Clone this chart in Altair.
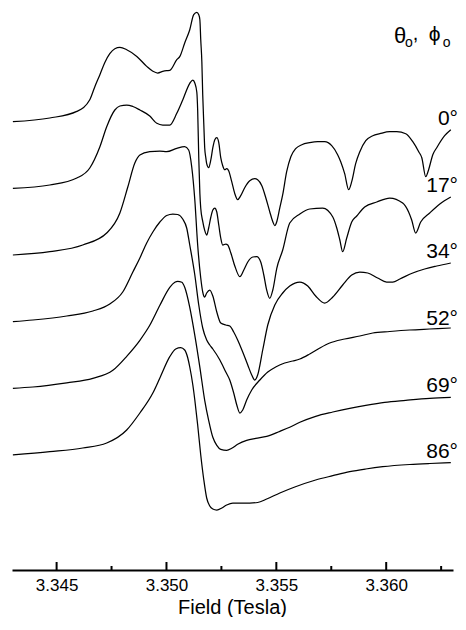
import altair as alt
import pandas as pd

angles = ["0°", "17°", "34°", "52°", "69°", "86°"]
offsets = [448.3, 381.7, 315.0, 248.3, 181.7, 115.0]

field_0 = [3.34301, 3.34469, 3.34592, 3.34651, 3.34674, 3.34697, 3.34719, 3.34742, 3.34765, 3.34788,
           3.34819, 3.34865,
           3.34910, 3.34938, 3.34960, 3.34983, 3.35001, 3.35015, 3.35047, 3.35061, 3.35083, 3.35106,
           3.35124, 3.35138, 3.35147, 3.35152, 3.35156, 3.35161, 3.35165, 3.35170, 3.35174, 3.35179,
           3.35183, 3.35192, 3.35202, 3.35211, 3.35220, 3.35229, 3.35238, 3.35247, 3.35256, 3.35265,
           3.35274, 3.35283, 3.35297, 3.35311, 3.35324, 3.35338, 3.35356, 3.35379, 3.35402, 3.35415,
           3.35434, 3.35452, 3.35470, 3.35484, 3.35493, 3.35502, 3.35516, 3.35529, 3.35547, 3.35566,
           3.35588, 3.35616, 3.35652, 3.35688, 3.35720, 3.35752, 3.35779, 3.35793, 3.35811, 3.35829,
           3.35843, 3.35861, 3.35880, 3.35907, 3.35939, 3.35971, 3.36016, 3.36048, 3.36089, 3.36121,
           3.36148, 3.36162, 3.36180, 3.36193, 3.36212, 3.36230, 3.36266, 3.36294]
sig_0 = [0, 3.7, 10.3, 22, 35, 47, 59, 68, 73, 74.3,
         72, 65.3,
         55.3, 50.5, 48.7, 50.3, 51, 51.3, 62, 65.3, 78.7, 92,
         107, 109.3, 107, 102, 82, 60, 27, -3, -26, -36,
         -42, -46, -38, -26, -18, -16, -21, -36, -44, -48,
         -47, -49, -60, -72, -78, -74, -66, -59, -57, -58,
         -64, -76, -90, -100, -104, -100, -86, -73, -50, -35,
         -27, -23, -21, -20, -20, -24, -33, -40, -52, -68,
         -60, -42, -30, -19, -14, -12, -10, -10, -12, -20,
         -30, -36, -55, -48, -33, -26, -14, -8]

field_17 = [3.34301, 3.34469, 3.34592, 3.34651, 3.34697, 3.34728, 3.34765, 3.34788, 3.34819, 3.34847,
            3.34879, 3.34924, 3.34956, 3.34983, 3.35015, 3.35047, 3.35074, 3.35106, 3.35120, 3.35129,
            3.35138, 3.35142, 3.35147, 3.35152, 3.35156, 3.35165, 3.35174, 3.35183, 3.35192, 3.35202,
            3.35211, 3.35220, 3.35229, 3.35238, 3.35247, 3.35256, 3.35270, 3.35279, 3.35293, 3.35311,
            3.35334, 3.35352, 3.35370, 3.35393, 3.35411, 3.35429, 3.35443, 3.35456, 3.35470, 3.35484,
            3.35502, 3.35529, 3.35561, 3.35607, 3.35652, 3.35711, 3.35757, 3.35775, 3.35789, 3.35802,
            3.35820, 3.35843, 3.35866, 3.35902, 3.35957, 3.36016, 3.36075, 3.36102, 3.36116, 3.36134,
            3.36157, 3.36198, 3.36244, 3.36294]
sig_17 = [0, 3.3, 10.3, 20.3, 41.6, 61.6, 78.3, 82.3, 83.3, 81.8,
          78.3, 72.3, 65, 63.3, 63.3, 75, 88.3, 105, 108.3, 105.3,
          96.3, 78, 30, -5, -20, -33, -42, -46.7, -39.7, -28.7,
          -21.7, -19.7, -23.7, -36.7, -49.7, -56.7, -55.7, -56.7, -64.7, -77.7,
          -88.4, -81.7, -73.7, -68.7, -68.4, -73.7, -86.7, -101.7, -110, -101.7,
          -80, -61.7, -34.7, -25.7, -20.7, -19.7, -28.7, -39.7, -51.7, -63.4,
          -50, -33.7, -27.7, -18.7, -13.7, -9.7, -14.7, -23.7, -31.7, -44.7,
          -33.7, -24.7, -15.7, -8.7]

field_34 = [3.34301, 3.34469, 3.34619, 3.34728, 3.34788, 3.34824, 3.34856, 3.34879, 3.34924, 3.34970,
            3.35001, 3.35047, 3.35083, 3.35101, 3.35115, 3.35129, 3.35142, 3.35156, 3.35165, 3.35174,
            3.35183, 3.35197, 3.35211, 3.35229, 3.35247, 3.35270, 3.35288, 3.35306, 3.35324, 3.35347,
            3.35370, 3.35388, 3.35402, 3.35415, 3.35438, 3.35461, 3.35493, 3.35529, 3.35561, 3.35607,
            3.35643, 3.35679, 3.35720, 3.35757, 3.35802, 3.35843, 3.35880, 3.35916, 3.35961, 3.36002,
            3.36030, 3.36062, 3.36121, 3.36175, 3.36230, 3.36294]
sig_34 = [0, 3.3, 10, 22, 42, 68, 92, 100, 103.3, 104,
          103.3, 106.7, 108.3, 105, 88, 55, 10, -23, -37, -42,
          -38, -35, -41, -57, -68, -70, -71, -77, -85, -97,
          -110, -120, -125, -120, -95, -70, -50, -38, -31, -27,
          -31, -41, -48, -42, -30, -20, -17, -18, -23, -27,
          -27, -24, -18, -14, -11, -8]

field_52 = [3.34301, 3.34392, 3.34546, 3.34665, 3.34742, 3.34801, 3.34847, 3.34879, 3.34910, 3.34938,
            3.34970, 3.35001, 3.35029, 3.35051, 3.35074, 3.35092, 3.35106, 3.35129, 3.35147, 3.35165,
            3.35183, 3.35197, 3.35211, 3.35243, 3.35270, 3.35288, 3.35306, 3.35320, 3.35334, 3.35347,
            3.35365, 3.35388, 3.35425, 3.35461, 3.35497, 3.35538, 3.35575, 3.35607, 3.35652, 3.35698,
            3.35743, 3.35811, 3.35880, 3.35939, 3.36016, 3.36107, 3.36198, 3.36294]
sig_52 = [0, 1.7, 5.7, 10.7, 17.7, 29.7, 49.7, 63.7, 78.7, 89.7,
          99.7, 106.2, 107.7, 107.2, 102.7, 93.7, 76.7, 46.7, 16.7, -6.3,
          -18.3, -23.3, -27.3, -38.3, -50.3, -58.3, -71.3, -83.3, -91.3, -88.3,
          -78.3, -68.3, -58.3, -50.3, -45.3, -41.3, -39.3, -37.3, -32.3, -26.3,
          -21.3, -17.3, -14.3, -11.3, -9.8, -8.3, -7.3, -6.3]

field_69 = [3.34301, 3.34392, 3.34546, 3.34665, 3.34756, 3.34819, 3.34879, 3.34924, 3.34970, 3.35015,
            3.35038, 3.35051, 3.35070, 3.35083, 3.35106, 3.35129, 3.35152, 3.35174, 3.35192, 3.35211,
            3.35229, 3.35247, 3.35274, 3.35297, 3.35324, 3.35365, 3.35406, 3.35456, 3.35516, 3.35561,
            3.35607, 3.35679, 3.35757, 3.35834, 3.35907, 3.35993, 3.36089, 3.36198, 3.36294]
sig_69 = [0, 1.3, 5.5, 10, 18, 32, 48, 63, 83, 101,
          106, 107, 106, 101, 81, 53, 21, -12, -32, -49,
          -57, -61, -62, -60, -56, -52, -50, -48, -43, -39,
          -34, -28, -23.7, -20, -17, -14, -12, -10, -9]

field_86 = [3.34301, 3.34469, 3.34619, 3.34728, 3.34819, 3.34879, 3.34938, 3.34970, 3.35015, 3.35042,
            3.35065, 3.35083, 3.35097, 3.35106, 3.35120, 3.35129, 3.35142, 3.35156, 3.35170, 3.35183,
            3.35197, 3.35211, 3.35229, 3.35252, 3.35274, 3.35302, 3.35334, 3.35379, 3.35415, 3.35456,
            3.35516, 3.35584, 3.35679, 3.35757, 3.35834, 3.35907, 3.35984, 3.36107, 3.36198, 3.36294]
sig_86 = [0, 3.3, 7, 12, 25, 42, 62, 77, 98.3, 106,
          107.3, 105, 97, 88, 70, 55, 30, 0, -25, -43,
          -51, -54, -55, -53, -50, -48, -48, -48, -47.5, -44,
          -38, -32, -25, -20.7, -16.7, -14, -11.7, -9.5, -8.5, -7.7]

major_ticks = [3.345, 3.350, 3.355, 3.360]
minor_ticks = [3.3475, 3.3525, 3.3575, 3.3625]
x_title = "Field (Tesla)"

fields = [field_0, field_17, field_34, field_52, field_69, field_86]
sigs = [sig_0, sig_17, sig_34, sig_52, sig_69, sig_86]

rows = []
for name, off, B, S in zip(angles, offsets, fields, sigs):
    assert len(B) == len(S), name
    for b, s in zip(B, S):
        rows.append({"angle": name, "field": b, "signal": s + off})
df = pd.DataFrame(rows)

W, H = 441, 560
FONT = "Liberation Sans"
xscale = alt.Scale(domain=[3.34297, 3.36304], nice=False, zero=False)
yscale = alt.Scale(domain=[0, H], nice=False, zero=False)

lines = alt.Chart(df).mark_line(color="black", strokeWidth=1.25, interpolate="monotone").encode(
    x=alt.X("field:Q", scale=xscale,
            axis=alt.Axis(values=major_ticks, format=".3f", title=None,
                          ticks=False, grid=False, domainColor="black", domainWidth=2,
                          labelFont=FONT, labelFontSize=17, labelColor="black",
                          labelPadding=7, labelFlush=False)),
    y=alt.Y("signal:Q", scale=yscale, axis=None),
    detail="angle:N",
)

major = alt.Chart(pd.DataFrame({"t": major_ticks})).mark_rule(color="black", strokeWidth=2).encode(
    x=alt.X("t:Q", scale=xscale), y=alt.value(H), y2=alt.value(H - 8))
minor = alt.Chart(pd.DataFrame({"t": minor_ticks})).mark_rule(color="black", strokeWidth=2).encode(
    x=alt.X("t:Q", scale=xscale), y=alt.value(H), y2=alt.value(H - 4))

lab_df = pd.DataFrame({"angle": angles, "pos": [o - 3.3 for o in offsets]})
labels = alt.Chart(lab_df).mark_text(align="right", baseline="alphabetic", fontSize=21,
                                      font=FONT, color="black").encode(
    x=alt.value(446), y=alt.Y("pos:Q", scale=yscale), text="angle:N")

def piece(txt, x, y, size, align="center"):
    return alt.Chart(pd.DataFrame({"s": [txt]})).mark_text(
        align=align, baseline="alphabetic", fontSize=size, font=FONT, color="black"
    ).encode(x=alt.value(x), y=alt.value(y), text="s:N")

title_parts = [piece("θ", 388, 33, 22), piece("o", 397, 37, 14), piece(",", 403.5, 30, 20),
               piece("ϕ", 422.7, 31, 21), piece("o", 434.7, 37, 14)]
axis_title = piece(x_title, W / 2, 604, 20)

chart = alt.layer(lines, major, minor, labels, axis_title, *title_parts).properties(
    width=W, height=H,
    padding={"left": 4, "top": 2, "right": 5, "bottom": 47},
    autosize=alt.AutoSizeParams(type="none"),
    background="white",
).configure_view(stroke=None)

chart.save("out.html", embed_options={"renderer": "svg", "actions": False})
